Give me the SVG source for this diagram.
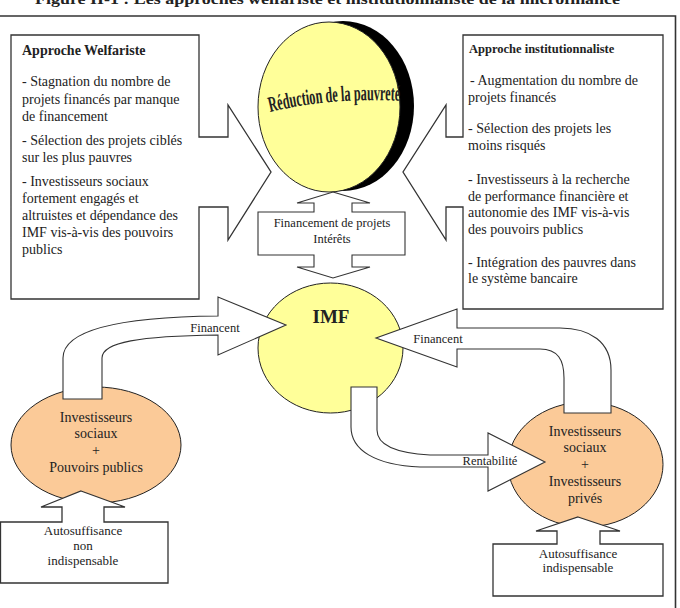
<svg xmlns="http://www.w3.org/2000/svg" width="680" height="608" viewBox="0 0 680 608">
<defs>
<style>
text{font-family:"Liberation Serif","Times New Roman",serif;fill:#222;}
.box{fill:#fff;stroke:#333;stroke-width:1.3;}
.arr{fill:#fff;stroke:#333;stroke-width:1.1;stroke-linejoin:miter;}
.yel{fill:#ffff99;stroke:#222;stroke-width:1;}
.org{fill:#fbca98;stroke:#222;stroke-width:1;}
.t14{font-size:14px;}
.t13{font-size:13px;}
.t12{font-size:12.5px;}
.c{text-anchor:middle;}
.b{font-weight:bold;}
</style>
<path id="arc" d="M270,112 Q332,97 402,101"/>
</defs>
<rect width="680" height="608" fill="#fff"/>
<text x="35" y="4" class="b" font-size="14" textLength="585" lengthAdjust="spacingAndGlyphs">Figure II-1 : Les approches welfariste et institutionnaliste de la microfinance</text>
<path d="M0,16 H675.5 V608" fill="none" stroke="#333" stroke-width="1.6"/>

<g id="welfariste">
<path class="box" d="M11,35 H199 V137 H228 V105 L271,172 L228,240 V207 H199 V299 H11 Z"/>
<text x="22" y="55" class="t14 b">Approche Welfariste</text>
<text x="22" y="86" class="t14">- Stagnation du nombre de</text>
<text x="22" y="104" class="t14">projets financés par manque</text>
<text x="22" y="121" class="t14">de financement</text>
<text x="22" y="145" class="t14">- Sélection des projets ciblés</text>
<text x="22" y="162" class="t14">sur les plus pauvres</text>
<text x="22" y="186" class="t14">- Investisseurs sociaux</text>
<text x="22" y="203" class="t14">fortement engagés et</text>
<text x="22" y="220" class="t14">altruistes et dépendance des</text>
<text x="22" y="237" class="t14">IMF vis-à-vis des pouvoirs</text>
<text x="22" y="254" class="t14">publics</text>
</g>

<g id="institutionnaliste">
<path class="box" d="M463,35 H663 V309 H463 V207 H446 V240 L403,172 L446,105 V137 H463 Z"/>
<text x="469" y="53" class="b" font-size="12.5">Approche institutionnaliste</text>
<text x="470" y="85" class="t14"> - Augmentation du nombre de</text>
<text x="468" y="102" class="t14">projets financés</text>
<text x="468" y="133" class="t14">- Sélection des projets les</text>
<text x="468" y="150" class="t14">moins risqués</text>
<text x="468" y="184" class="t14">- Investisseurs à la recherche</text>
<text x="468" y="201" class="t14">de performance financière et</text>
<text x="468" y="217" class="t14">autonomie des IMF vis-à-vis</text>
<text x="468" y="234" class="t14">des pouvoirs publics</text>
<text x="468" y="267" class="t14">- Intégration des pauvres dans</text>
<text x="468" y="283" class="t14">le système bancaire</text>
</g>

<g id="reduction">
<ellipse cx="343" cy="106" rx="71" ry="85" fill="#000"/>
<ellipse class="yel" cx="329" cy="107" rx="71" ry="85"/>
<text class="b" font-size="22"><textPath href="#arc" textLength="131" lengthAdjust="spacingAndGlyphs">Réduction de la pauvreté</textPath></text>
</g>

<g id="imf">
<ellipse class="yel" cx="330.5" cy="348" rx="72.5" ry="65"/>
<text x="331" y="323" class="c b" font-size="19">IMF</text>
</g>

<g id="inv-left">
<ellipse class="org" cx="96" cy="445" rx="85" ry="58"/>
<text x="96" y="422" class="t14 c">Investisseurs</text>
<text x="96" y="438" class="t14 c">sociaux</text>
<text x="96" y="455" class="t14 c">+</text>
<text x="96" y="472" class="t14 c">Pouvoirs publics</text>
</g>

<g id="inv-right">
<ellipse class="org" cx="585.5" cy="464.5" rx="77.5" ry="62.5"/>
<text x="585" y="436" class="t14 c">Investisseurs</text>
<text x="585" y="452" class="t14 c">sociaux</text>
<text x="585" y="469" class="t14 c">+</text>
<text x="585" y="486" class="t14 c">Investisseurs</text>
<text x="585" y="503" class="t14 c">privés</text>
</g>

<g id="connectors">
<path id="financement" class="arr" d="M333,192 L370,203 H352 V212 H405 V255 H352 V267 H370 L333,278 L297,267 H314 V255 H258 V212 H314 V203 H297 Z"/>
<text x="332" y="227" class="t12 c">Financement de projets</text>
<text x="332" y="243" class="t12 c">Intérêts</text>

<path id="financent-left" class="arr" d="M63,399 V358 C63,330 120,317 218,316 V297 L286,325 L218,355 V335 C140,336 102,342 102,358 V399 Z"/>
<text x="215" y="332" class="t12 c">Financent</text>

<path id="financent-right" class="arr" d="M611,413 V370 C611,342 590,328 560,328 H457 V309 L376,338 L457,367 V349 H540 C558,349 564,360 564,378 V413 Z"/>
<text x="438" y="343" class="t12 c">Financent</text>

<path id="rentabilite" class="arr" d="M351,387 V427 C351,450 375,465 420,467 H488 V491 L545,462 L488,433 V455 H430 C395,453 377,445 377,430 V387 Z"/>
<text x="490" y="465" class="t12 c">Rentabilité</text>
</g>

<g id="auto-non">
<path class="box" d="M81,491 L125,507 H104 V522 H168 V583 H0.5 V522 H62 V507 H41 Z"/>
<text x="83" y="535" class="t13 c">Autosuffisance</text>
<text x="83" y="550" class="t13 c">non</text>
<text x="83" y="565" class="t13 c">indispensable</text>
</g>

<g id="auto-ind">
<path class="box" d="M578,517 L620,531 H600 V544 H663 V596 H493 V544 H557 V531 H536 Z"/>
<text x="578" y="558" class="t13 c">Autosuffisance</text>
<text x="578" y="572" class="t13 c">indispensable</text>
</g>
</svg>
